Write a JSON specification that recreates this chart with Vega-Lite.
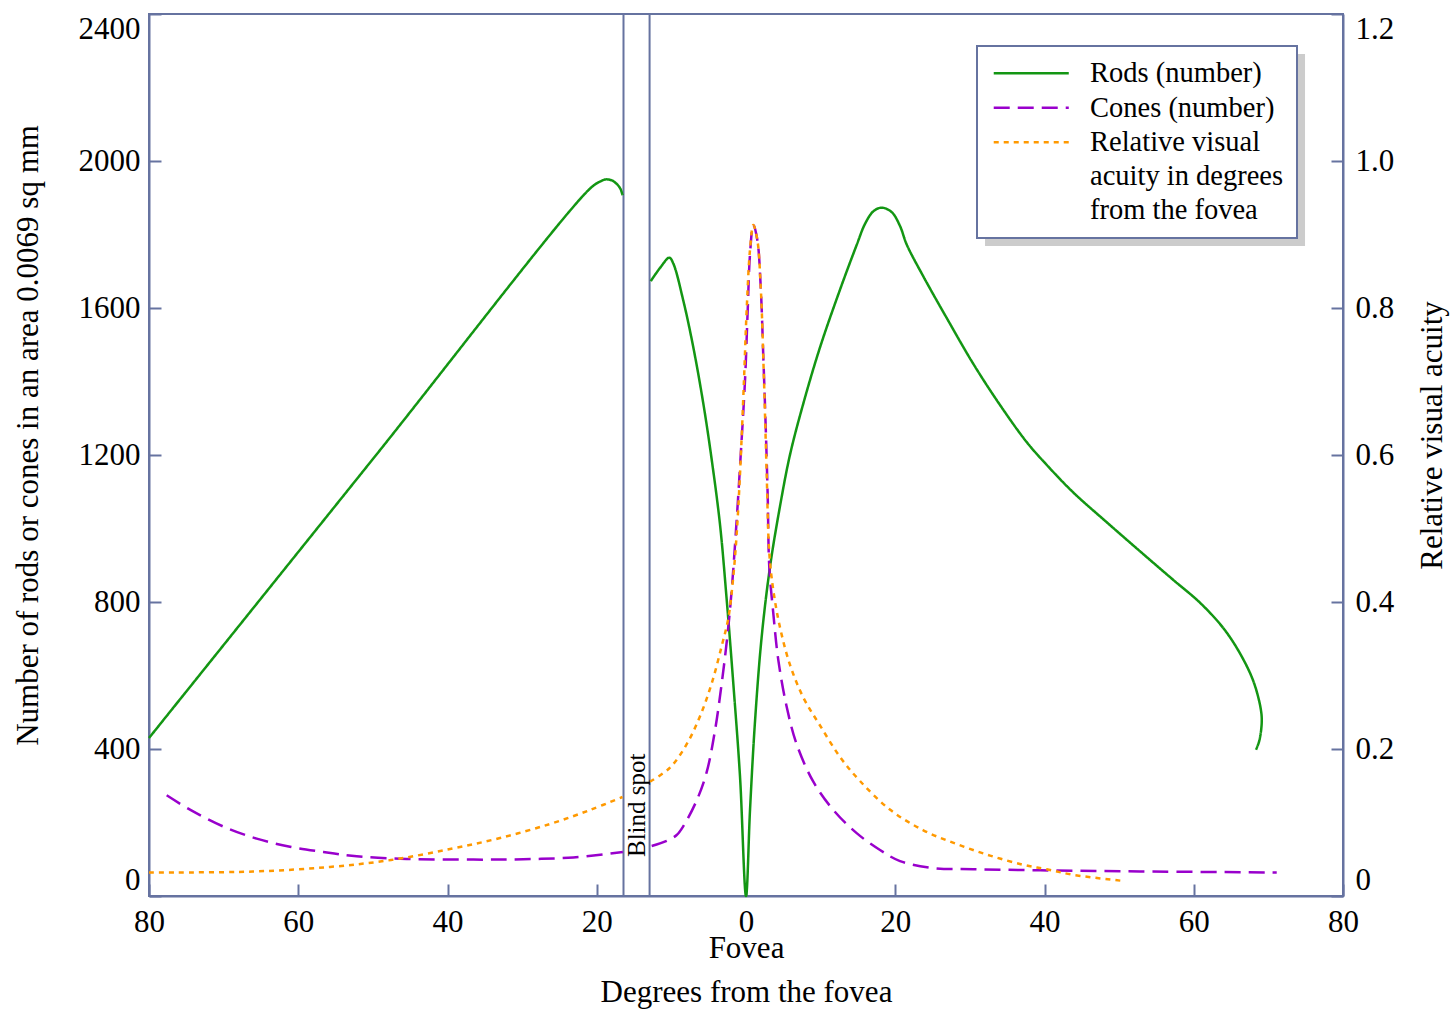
{
  "$schema": "https://vega.github.io/schema/vega-lite/v6.json",
  "width": 1194,
  "height": 882,
  "autosize": {"type": "none"},
  "padding": {"left": 149, "top": 14, "right": 112, "bottom": 114},
  "background": "white",
  "config": {
    "font": "Liberation Serif, Times New Roman, DejaVu Serif, serif",
    "view": {"stroke": "#6673a0", "strokeWidth": 2},
    "style": {"guide-label": {"lineHeight": 34}},
    "legend": {"strokeWidth": 2},
    "axis": {
      "domainColor": "#6673a0", "domainWidth": 2,
      "tickColor": "#6673a0", "tickWidth": 2, "tickSize": -12,
      "labelFont": "Liberation Serif, Times New Roman, DejaVu Serif, serif", "labelFontSize": 31, "labelColor": "black",
      "labelOverlap": false, "labelFlush": false,
      "titleFont": "Liberation Serif, Times New Roman, DejaVu Serif, serif", "titleFontSize": 31, "titleFontWeight": "normal", "titleColor": "black",
      "grid": false
    }
  },
  "datasets": {
    "rc": [
      {"s": "Rods (number)", "g": "L", "i": 1, "d": -80, "v": 430},
      {"s": "Rods (number)", "g": "L", "i": 2, "d": -50, "v": 1189},
      {"s": "Rods (number)", "g": "L", "i": 3, "d": -20.9, "v": 1925},
      {"s": "Rods (number)", "g": "L", "i": 4, "d": -19.56, "v": 1944},
      {"s": "Rods (number)", "g": "L", "i": 5, "d": -18.76, "v": 1950},
      {"s": "Rods (number)", "g": "L", "i": 6, "d": -17.96, "v": 1947},
      {"s": "Rods (number)", "g": "L", "i": 7, "d": -17.29, "v": 1937},
      {"s": "Rods (number)", "g": "L", "i": 8, "d": -16.82, "v": 1924},
      {"s": "Rods (number)", "g": "L", "i": 9, "d": -16.55, "v": 1907},
      {"s": "Rods (number)", "g": "R", "i": 1, "d": -12.77, "v": 1673},
      {"s": "Rods (number)", "g": "R", "i": 2, "d": -11.52, "v": 1709},
      {"s": "Rods (number)", "g": "R", "i": 3, "d": -10.28, "v": 1737},
      {"s": "Rods (number)", "g": "R", "i": 4, "d": -9.74, "v": 1721},
      {"s": "Rods (number)", "g": "R", "i": 5, "d": -8.4, "v": 1620},
      {"s": "Rods (number)", "g": "R", "i": 6, "d": -7.06, "v": 1493},
      {"s": "Rods (number)", "g": "R", "i": 7, "d": -5.72, "v": 1340},
      {"s": "Rods (number)", "g": "R", "i": 8, "d": -4.6, "v": 1188},
      {"s": "Rods (number)", "g": "R", "i": 9, "d": -3.48, "v": 1010},
      {"s": "Rods (number)", "g": "R", "i": 10, "d": -2.59, "v": 807},
      {"s": "Rods (number)", "g": "R", "i": 11, "d": -1.7, "v": 578},
      {"s": "Rods (number)", "g": "R", "i": 12, "d": -0.8, "v": 324},
      {"s": "Rods (number)", "g": "R", "i": 13, "d": 0, "v": 0},
      {"s": "Rods (number)", "g": "R", "i": 14, "d": 0.54, "v": 235},
      {"s": "Rods (number)", "g": "R", "i": 15, "d": 1.21, "v": 476},
      {"s": "Rods (number)", "g": "R", "i": 16, "d": 2.1, "v": 705},
      {"s": "Rods (number)", "g": "R", "i": 17, "d": 3.22, "v": 896},
      {"s": "Rods (number)", "g": "R", "i": 18, "d": 4.56, "v": 1061},
      {"s": "Rods (number)", "g": "R", "i": 19, "d": 5.9, "v": 1201},
      {"s": "Rods (number)", "g": "R", "i": 20, "d": 7.68, "v": 1340},
      {"s": "Rods (number)", "g": "R", "i": 21, "d": 9.92, "v": 1493},
      {"s": "Rods (number)", "g": "R", "i": 22, "d": 12.6, "v": 1650},
      {"s": "Rods (number)", "g": "R", "i": 23, "d": 14.84, "v": 1772},
      {"s": "Rods (number)", "g": "R", "i": 24, "d": 15.95, "v": 1829},
      {"s": "Rods (number)", "g": "R", "i": 25, "d": 17.06, "v": 1863},
      {"s": "Rods (number)", "g": "R", "i": 26, "d": 18.18, "v": 1873},
      {"s": "Rods (number)", "g": "R", "i": 27, "d": 19.52, "v": 1861},
      {"s": "Rods (number)", "g": "R", "i": 28, "d": 20.64, "v": 1823},
      {"s": "Rods (number)", "g": "R", "i": 29, "d": 21.53, "v": 1773},
      {"s": "Rods (number)", "g": "R", "i": 30, "d": 23.76, "v": 1686},
      {"s": "Rods (number)", "g": "R", "i": 31, "d": 26.89, "v": 1573},
      {"s": "Rods (number)", "g": "R", "i": 32, "d": 30.46, "v": 1448},
      {"s": "Rods (number)", "g": "R", "i": 33, "d": 34.04, "v": 1336},
      {"s": "Rods (number)", "g": "R", "i": 34, "d": 37.62, "v": 1235},
      {"s": "Rods (number)", "g": "R", "i": 35, "d": 40.3, "v": 1173},
      {"s": "Rods (number)", "g": "R", "i": 36, "d": 43.86, "v": 1098},
      {"s": "Rods (number)", "g": "R", "i": 37, "d": 48.34, "v": 1017},
      {"s": "Rods (number)", "g": "R", "i": 38, "d": 52.8, "v": 938},
      {"s": "Rods (number)", "g": "R", "i": 39, "d": 57.26, "v": 860},
      {"s": "Rods (number)", "g": "R", "i": 40, "d": 60.84, "v": 798},
      {"s": "Rods (number)", "g": "R", "i": 41, "d": 63.96, "v": 729},
      {"s": "Rods (number)", "g": "R", "i": 42, "d": 66.2, "v": 660},
      {"s": "Rods (number)", "g": "R", "i": 43, "d": 67.98, "v": 585},
      {"s": "Rods (number)", "g": "R", "i": 44, "d": 68.97, "v": 510},
      {"s": "Rods (number)", "g": "R", "i": 45, "d": 69.11, "v": 473},
      {"s": "Rods (number)", "g": "R", "i": 46, "d": 68.79, "v": 423},
      {"s": "Rods (number)", "g": "R", "i": 47, "d": 68.34, "v": 398},
      {"s": "Cones (number)", "g": "L", "i": 1, "d": -77.63, "v": 274},
      {"s": "Cones (number)", "g": "L", "i": 2, "d": -74.51, "v": 235},
      {"s": "Cones (number)", "g": "L", "i": 3, "d": -70.04, "v": 189},
      {"s": "Cones (number)", "g": "L", "i": 4, "d": -65.57, "v": 156},
      {"s": "Cones (number)", "g": "L", "i": 5, "d": -61.11, "v": 134},
      {"s": "Cones (number)", "g": "L", "i": 6, "d": -56.64, "v": 120},
      {"s": "Cones (number)", "g": "L", "i": 7, "d": -52.17, "v": 108},
      {"s": "Cones (number)", "g": "L", "i": 8, "d": -45.47, "v": 101},
      {"s": "Cones (number)", "g": "L", "i": 9, "d": -36.54, "v": 99},
      {"s": "Cones (number)", "g": "L", "i": 10, "d": -29.84, "v": 100},
      {"s": "Cones (number)", "g": "L", "i": 11, "d": -23.14, "v": 105},
      {"s": "Cones (number)", "g": "L", "i": 12, "d": -16.5, "v": 120},
      {"s": "Cones (number)", "g": "R", "i": 1, "d": -12.64, "v": 136},
      {"s": "Cones (number)", "g": "R", "i": 2, "d": -10.63, "v": 150},
      {"s": "Cones (number)", "g": "R", "i": 3, "d": -9.29, "v": 166},
      {"s": "Cones (number)", "g": "R", "i": 4, "d": -8.4, "v": 190},
      {"s": "Cones (number)", "g": "R", "i": 5, "d": -6.61, "v": 260},
      {"s": "Cones (number)", "g": "R", "i": 6, "d": -5.27, "v": 337},
      {"s": "Cones (number)", "g": "R", "i": 7, "d": -4.15, "v": 451},
      {"s": "Cones (number)", "g": "R", "i": 8, "d": -3.26, "v": 578},
      {"s": "Cones (number)", "g": "R", "i": 9, "d": -2.51, "v": 705},
      {"s": "Cones (number)", "g": "R", "i": 10, "d": -1.92, "v": 832},
      {"s": "Cones (number)", "g": "R", "i": 11, "d": -1.25, "v": 1023},
      {"s": "Cones (number)", "g": "R", "i": 12, "d": -0.67, "v": 1213},
      {"s": "Cones (number)", "g": "R", "i": 13, "d": -0.13, "v": 1404},
      {"s": "Cones (number)", "g": "R", "i": 14, "d": 0.23, "v": 1595},
      {"s": "Cones (number)", "g": "R", "i": 15, "d": 0.54, "v": 1747},
      {"s": "Cones (number)", "g": "R", "i": 16, "d": 0.98, "v": 1826},
      {"s": "Cones (number)", "g": "R", "i": 17, "d": 1.52, "v": 1785},
      {"s": "Cones (number)", "g": "R", "i": 18, "d": 1.97, "v": 1658},
      {"s": "Cones (number)", "g": "R", "i": 19, "d": 2.32, "v": 1467},
      {"s": "Cones (number)", "g": "R", "i": 20, "d": 2.64, "v": 1277},
      {"s": "Cones (number)", "g": "R", "i": 21, "d": 2.91, "v": 1086},
      {"s": "Cones (number)", "g": "R", "i": 22, "d": 3.12, "v": 896},
      {"s": "Cones (number)", "g": "R", "i": 23, "d": 3.66, "v": 769},
      {"s": "Cones (number)", "g": "R", "i": 24, "d": 4.33, "v": 642},
      {"s": "Cones (number)", "g": "R", "i": 25, "d": 5.45, "v": 515},
      {"s": "Cones (number)", "g": "R", "i": 26, "d": 6.79, "v": 413},
      {"s": "Cones (number)", "g": "R", "i": 27, "d": 9.02, "v": 311},
      {"s": "Cones (number)", "g": "R", "i": 28, "d": 11.7, "v": 234},
      {"s": "Cones (number)", "g": "R", "i": 29, "d": 14.83, "v": 171},
      {"s": "Cones (number)", "g": "R", "i": 30, "d": 17.96, "v": 125},
      {"s": "Cones (number)", "g": "R", "i": 31, "d": 20.64, "v": 95},
      {"s": "Cones (number)", "g": "R", "i": 32, "d": 25.1, "v": 76},
      {"s": "Cones (number)", "g": "R", "i": 33, "d": 30.46, "v": 73},
      {"s": "Cones (number)", "g": "R", "i": 34, "d": 39.4, "v": 70},
      {"s": "Cones (number)", "g": "R", "i": 35, "d": 52.8, "v": 67},
      {"s": "Cones (number)", "g": "R", "i": 36, "d": 71.12, "v": 64}
    ],
    "acuity": [
      {"s": "Relative visual acuity in degrees from the fovea", "g": "L", "i": 1, "d": -80, "a": 0.032},
      {"s": "Relative visual acuity in degrees from the fovea", "g": "L", "i": 2, "d": -66.06, "a": 0.0333},
      {"s": "Relative visual acuity in degrees from the fovea", "g": "L", "i": 3, "d": -55.75, "a": 0.0395},
      {"s": "Relative visual acuity in degrees from the fovea", "g": "L", "i": 4, "d": -47.57, "a": 0.049},
      {"s": "Relative visual acuity in degrees from the fovea", "g": "L", "i": 5, "d": -39.66, "a": 0.0639},
      {"s": "Relative visual acuity in degrees from the fovea", "g": "L", "i": 6, "d": -32.96, "a": 0.0789},
      {"s": "Relative visual acuity in degrees from the fovea", "g": "L", "i": 7, "d": -26.26, "a": 0.098},
      {"s": "Relative visual acuity in degrees from the fovea", "g": "L", "i": 8, "d": -20.9, "a": 0.117},
      {"s": "Relative visual acuity in degrees from the fovea", "g": "L", "i": 9, "d": -16.55, "a": 0.1347},
      {"s": "Relative visual acuity in degrees from the fovea", "g": "R", "i": 1, "d": -12.86, "a": 0.1555},
      {"s": "Relative visual acuity in degrees from the fovea", "g": "R", "i": 2, "d": -10.18, "a": 0.1747},
      {"s": "Relative visual acuity in degrees from the fovea", "g": "R", "i": 3, "d": -7.95, "a": 0.2065},
      {"s": "Relative visual acuity in degrees from the fovea", "g": "R", "i": 4, "d": -6.16, "a": 0.2446},
      {"s": "Relative visual acuity in degrees from the fovea", "g": "R", "i": 5, "d": -4.6, "a": 0.2891},
      {"s": "Relative visual acuity in degrees from the fovea", "g": "R", "i": 6, "d": -3.26, "a": 0.3399},
      {"s": "Relative visual acuity in degrees from the fovea", "g": "R", "i": 7, "d": -2.37, "a": 0.378},
      {"s": "Relative visual acuity in degrees from the fovea", "g": "R", "i": 8, "d": -1.7, "a": 0.4351},
      {"s": "Relative visual acuity in degrees from the fovea", "g": "R", "i": 9, "d": -1.25, "a": 0.4924},
      {"s": "Relative visual acuity in degrees from the fovea", "g": "R", "i": 10, "d": -0.8, "a": 0.5748},
      {"s": "Relative visual acuity in degrees from the fovea", "g": "R", "i": 11, "d": -0.27, "a": 0.7019},
      {"s": "Relative visual acuity in degrees from the fovea", "g": "R", "i": 12, "d": 0.09, "a": 0.7973},
      {"s": "Relative visual acuity in degrees from the fovea", "g": "R", "i": 13, "d": 0.54, "a": 0.8797},
      {"s": "Relative visual acuity in degrees from the fovea", "g": "R", "i": 14, "d": 0.98, "a": 0.9128},
      {"s": "Relative visual acuity in degrees from the fovea", "g": "R", "i": 15, "d": 1.52, "a": 0.8925},
      {"s": "Relative visual acuity in degrees from the fovea", "g": "R", "i": 16, "d": 1.97, "a": 0.829},
      {"s": "Relative visual acuity in degrees from the fovea", "g": "R", "i": 17, "d": 2.41, "a": 0.702},
      {"s": "Relative visual acuity in degrees from the fovea", "g": "R", "i": 18, "d": 2.77, "a": 0.5748},
      {"s": "Relative visual acuity in degrees from the fovea", "g": "R", "i": 19, "d": 3.12, "a": 0.4669},
      {"s": "Relative visual acuity in degrees from the fovea", "g": "R", "i": 20, "d": 3.66, "a": 0.416},
      {"s": "Relative visual acuity in degrees from the fovea", "g": "R", "i": 21, "d": 4.56, "a": 0.3653},
      {"s": "Relative visual acuity in degrees from the fovea", "g": "R", "i": 22, "d": 5.9, "a": 0.3144},
      {"s": "Relative visual acuity in degrees from the fovea", "g": "R", "i": 23, "d": 7.68, "a": 0.2701},
      {"s": "Relative visual acuity in degrees from the fovea", "g": "R", "i": 24, "d": 9.92, "a": 0.232},
      {"s": "Relative visual acuity in degrees from the fovea", "g": "R", "i": 25, "d": 12.6, "a": 0.1891},
      {"s": "Relative visual acuity in degrees from the fovea", "g": "R", "i": 26, "d": 15.27, "a": 0.1565},
      {"s": "Relative visual acuity in degrees from the fovea", "g": "R", "i": 27, "d": 19.28, "a": 0.1176},
      {"s": "Relative visual acuity in degrees from the fovea", "g": "R", "i": 28, "d": 23.76, "a": 0.0894},
      {"s": "Relative visual acuity in degrees from the fovea", "g": "R", "i": 29, "d": 28.24, "a": 0.0706},
      {"s": "Relative visual acuity in degrees from the fovea", "g": "R", "i": 30, "d": 32.7, "a": 0.055},
      {"s": "Relative visual acuity in degrees from the fovea", "g": "R", "i": 31, "d": 37.16, "a": 0.0424},
      {"s": "Relative visual acuity in degrees from the fovea", "g": "R", "i": 32, "d": 40.3, "a": 0.0363},
      {"s": "Relative visual acuity in degrees from the fovea", "g": "R", "i": 33, "d": 43.86, "a": 0.0288},
      {"s": "Relative visual acuity in degrees from the fovea", "g": "R", "i": 34, "d": 50.35, "a": 0.0207}
    ]
  },
  "layer": [
    {
      "layer": [
        {
          "data": {"values": [{}]},
          "mark": {"type": "rect", "fill": "#cccccc", "stroke": null},
          "encoding": {
            "x": {"datum": 32.03, "type": "quantitative", "scale": {"domain": [-80, 80], "nice": false, "zero": false}},
            "x2": {"datum": 74.91},
            "y": {"datum": 2291, "type": "quantitative"},
            "y2": {"datum": 1769}
          }
        },
        {
          "data": {"values": [{}]},
          "mark": {"type": "rect", "filled": false, "stroke": "#6673a0", "strokeWidth": 2},
          "encoding": {
            "x": {"datum": -16.415, "type": "quantitative"},
            "x2": {"datum": -12.92}
          }
        },
        {
          "data": {"values": [{}]},
          "mark": {"type": "text", "text": "Blind spot", "angle": 270, "align": "left", "baseline": "middle", "font": "Liberation Serif, Times New Roman, DejaVu Serif, serif", "fontSize": 25, "color": "black"},
          "encoding": {
            "x": {"datum": -14.67, "type": "quantitative"},
            "y": {"datum": 106, "type": "quantitative"}
          }
        },
        {
          "data": {"name": "rc"},
          "mark": {"type": "line", "strokeWidth": 2.5, "interpolate": "catmull-rom"},
          "encoding": {
            "x": {"field": "d", "type": "quantitative", "scale": {"domain": [-80, 80], "nice": false, "zero": false},
              "axis": {"values": [-80, -60, -40, -20, 0, 20, 40, 60, 80], "labelExpr": "datum.value == 0 ? ['0', 'Fovea'] : format(abs(datum.value), 'd')", "title": "Degrees from the fovea", "labelPadding": 23, "labelLineHeight": 26, "titlePadding": 14}},
            "y": {"field": "v", "type": "quantitative", "scale": {"domain": [0, 2400], "nice": false},
              "axis": {"values": [0, 400, 800, 1200, 1600, 2000, 2400], "format": "d", "labelFlush": true, "title": "Number of rods or cones in an area 0.0069 sq mm", "labelPadding": 21, "titlePadding": 34, "titleY": 421}},
            "color": {"field": "s", "type": "nominal", "title": null,
              "scale": {"domain": ["Rods (number)", "Cones (number)", "Relative visual acuity in degrees from the fovea"], "range": ["#139613", "#9900cc", "#ff9900"]},
              "legend": {"orient": "none", "legendX": 828, "legendY": 32, "fillColor": "white", "strokeColor": "#6673a0", "padding": 13, "symbolType": "M-4,0H4", "symbolSize": 352, "symbolOffset": 27, "symbolStrokeWidth": 2.5, "labelFont": "Liberation Serif, Times New Roman, DejaVu Serif, serif", "labelFontSize": 28.5, "labelColor": "black", "labelLimit": 500, "labelOffset": 44.5, "rowPadding": 5.5, "labelExpr": "datum.label == 'Relative visual acuity in degrees from the fovea' ? ['Relative visual', 'acuity in degrees', 'from the fovea'] : datum.label"}},
            "strokeDash": {"field": "s", "type": "nominal", "title": null,
              "scale": {"domain": ["Rods (number)", "Cones (number)", "Relative visual acuity in degrees from the fovea"], "range": [[1, 0], [16, 8], [5, 5]]},
              "legend": {"orient": "none", "legendX": 828, "legendY": 32, "fillColor": "white", "strokeColor": "#6673a0", "padding": 13, "symbolType": "M-4,0H4", "symbolSize": 352, "symbolOffset": 27, "symbolStrokeWidth": 2.5, "labelFont": "Liberation Serif, Times New Roman, DejaVu Serif, serif", "labelFontSize": 28.5, "labelColor": "black", "labelLimit": 500, "labelOffset": 44.5, "rowPadding": 5.5, "labelExpr": "datum.label == 'Relative visual acuity in degrees from the fovea' ? ['Relative visual', 'acuity in degrees', 'from the fovea'] : datum.label"}},
            "detail": {"field": "g"},
            "order": {"field": "i", "type": "quantitative"}
          }
        }
      ]
    },
    {
      "data": {"name": "acuity"},
      "mark": {"type": "line", "strokeWidth": 2.5, "interpolate": "catmull-rom"},
      "encoding": {
        "x": {"field": "d", "type": "quantitative"},
        "y": {"field": "a", "type": "quantitative", "scale": {"domain": [0, 1.2], "nice": false},
          "axis": {"orient": "right", "values": [0, 0.2, 0.4, 0.6, 0.8, 1.0, 1.2], "labelFlush": true, "labelExpr": "datum.value == 0 ? '0' : format(datum.value, '.1f')", "title": "Relative visual acuity", "titleAngle": 270, "titleBaseline": "top", "labelPadding": 24, "titlePadding": 24, "titleY": 421}},
        "color": {"field": "s", "type": "nominal", "title": null},
        "strokeDash": {"field": "s", "type": "nominal", "title": null},
        "detail": {"field": "g"},
        "order": {"field": "i", "type": "quantitative"}
      }
    }
  ],
  "resolve": {"scale": {"y": "independent"}}
}
